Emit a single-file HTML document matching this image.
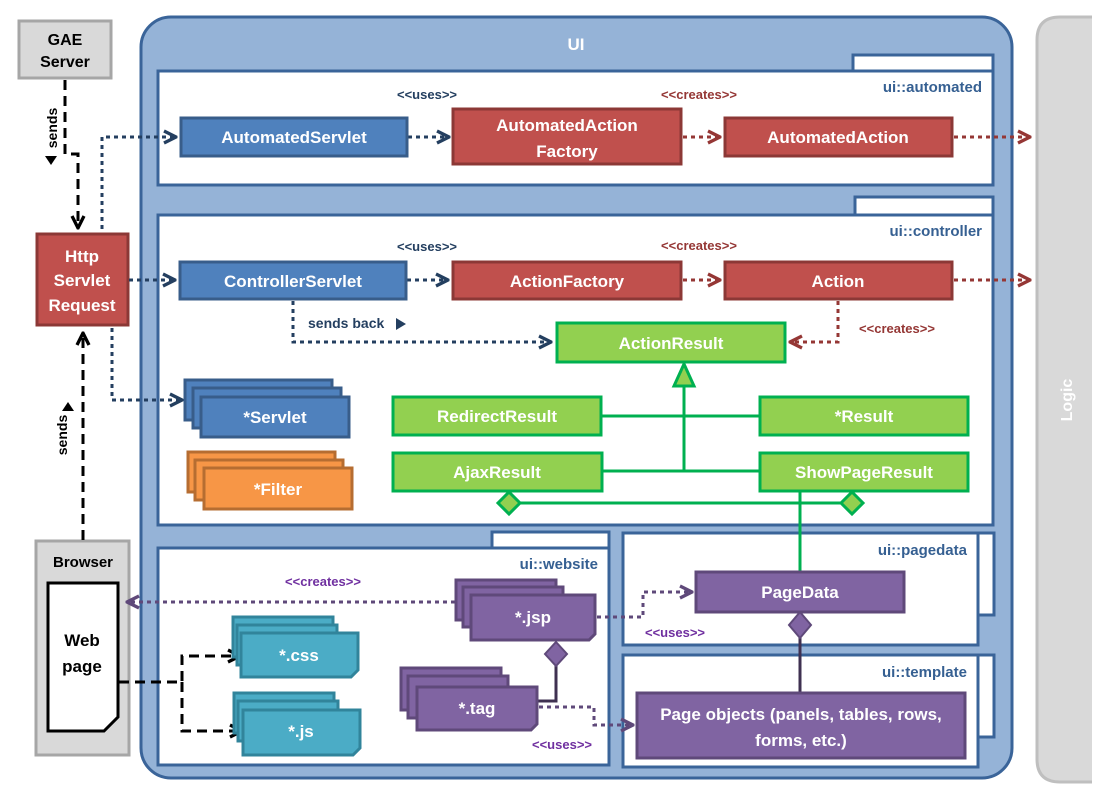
<!DOCTYPE html>
<html><head><meta charset="utf-8"><style>
html,body{margin:0;padding:0;background:#fff}
svg{display:block}
text{font-family:"Liberation Sans",sans-serif;font-weight:bold}
.w{fill:#fff;font-size:17px}
.lab{font-size:14px}
</style></head><body>
<svg width="1096" height="794" viewBox="0 0 1096 794" xmlns="http://www.w3.org/2000/svg">
<defs>
<marker id="ab" viewBox="0 0 10 10" refX="9" refY="5" markerWidth="5" markerHeight="5" orient="auto"><path d="M1,1 L9,5 L1,9" fill="none" stroke="#243F60" stroke-width="2.2"/></marker>
<marker id="ar" viewBox="0 0 10 10" refX="9" refY="5" markerWidth="5" markerHeight="5" orient="auto"><path d="M1,1 L9,5 L1,9" fill="none" stroke="#953735" stroke-width="2.2"/></marker>
<marker id="ap" viewBox="0 0 10 10" refX="9" refY="5" markerWidth="5" markerHeight="5" orient="auto"><path d="M1,1 L9,5 L1,9" fill="none" stroke="#5F497A" stroke-width="2.2"/></marker>
<marker id="ak" viewBox="0 0 10 10" refX="9" refY="5" markerWidth="5" markerHeight="5" orient="auto"><path d="M1,1 L9,5 L1,9" fill="none" stroke="#000" stroke-width="2.2"/></marker>
</defs>
<!-- Logic -->
<path d="M1092,17 L1060,17 Q1037,17 1037,40 L1037,759 Q1037,782 1060,782 L1092,782" fill="#d9d9d9" stroke="#bfbfbf" stroke-width="3"/>
<text x="1072" y="400" transform="rotate(-90 1072 400)" text-anchor="middle" fill="#fff" font-size="16">Logic</text>
<!-- UI -->
<rect x="141" y="17" width="871" height="761" rx="30" fill="#95B3D7" stroke="#3A6499" stroke-width="3"/>
<text x="576" y="50" class="w" text-anchor="middle">UI</text>
<!-- packages -->
<g fill="#fff" stroke="#3A6499" stroke-width="3">
<rect x="853" y="55" width="140" height="20"/>
<rect x="158" y="71" width="835" height="114"/>
<rect x="855" y="197" width="138" height="22"/>
<rect x="158" y="215" width="835" height="310"/>
<rect x="492" y="532" width="117" height="20"/>
<rect x="158" y="548" width="451" height="217"/>
<rect x="960" y="533" width="34" height="82"/>
<rect x="623" y="533" width="355" height="112"/>
<rect x="960" y="655" width="34" height="82"/>
<rect x="623" y="655" width="355" height="112"/>
</g>
<g fill="#366092" font-size="15" text-anchor="end">
<text x="982" y="92">ui::automated</text>
<text x="982" y="236">ui::controller</text>
<text x="598" y="569">ui::website</text>
<text x="967" y="555">ui::pagedata</text>
<text x="967" y="677">ui::template</text>
</g>
<!-- GAE -->
<rect x="19" y="21" width="92" height="57" fill="#d9d9d9" stroke="#a6a6a6" stroke-width="3"/>
<text x="65" y="45" text-anchor="middle" font-size="16">GAE</text>
<text x="65" y="67" text-anchor="middle" font-size="16">Server</text>
<path d="M65,80 L65,154 L78,154 L78,228" fill="none" stroke="#000" stroke-width="3" stroke-dasharray="10,6" marker-end="url(#ak)"/>
<text x="57" y="128" transform="rotate(-90 57 128)" text-anchor="middle" font-size="14">sends</text>
<path d="M45,156 L57,156 L51,165 Z" fill="#000"/>
<!-- Browser -->
<rect x="36" y="541" width="93" height="214" fill="#d9d9d9" stroke="#a6a6a6" stroke-width="3"/>
<text x="83" y="567" text-anchor="middle" font-size="15">Browser</text>
<path d="M48,583 L118,583 L118,717 L104,731 L48,731 Z" fill="#fff" stroke="#000" stroke-width="3"/>
<text x="82" y="646" text-anchor="middle" font-size="17">Web</text>
<text x="82" y="672" text-anchor="middle" font-size="17">page</text>
<path d="M83,540 L83,333" fill="none" stroke="#000" stroke-width="3" stroke-dasharray="10,6" marker-end="url(#ak)"/>
<text x="67" y="435" transform="rotate(-90 67 435)" text-anchor="middle" font-size="14">sends</text>
<path d="M62,411 L74,411 L68,402 Z" fill="#000"/>
<!-- HttpServletRequest -->
<rect x="37" y="234" width="91" height="91" fill="#C0504D" stroke="#8C3836" stroke-width="3"/>
<text x="82" y="262" class="w" text-anchor="middle">Http</text>
<text x="82" y="286" class="w" text-anchor="middle">Servlet</text>
<text x="82" y="311" class="w" text-anchor="middle">Request</text>
<!-- dotted blue connectors -->
<g fill="none" stroke="#243F60" stroke-width="3" stroke-dasharray="4,4" marker-end="url(#ab)">
<path d="M102,229 L102,137 L176,137"/>
<path d="M408,137 L449,137"/>
<path d="M129,280 L175,280"/>
<path d="M407,280 L448,280"/>
<path d="M293,301 L293,342 L551,342"/>
<path d="M112,328 L112,400 L182,400"/>
</g>
<text x="308" y="328" font-size="14" fill="#243F60">sends back</text>
<path d="M396,318 L406,324 L396,330 Z" fill="#243F60"/>
<text x="427" y="99" text-anchor="middle" font-size="13" fill="#243F60">&lt;&lt;uses&gt;&gt;</text>
<text x="427" y="251" text-anchor="middle" font-size="13" fill="#243F60">&lt;&lt;uses&gt;&gt;</text>
<!-- red dotted -->
<g fill="none" stroke="#953735" stroke-width="3" stroke-dasharray="4,4" marker-end="url(#ar)">
<path d="M683,137 L720,137"/>
<path d="M954,137 L1030,137"/>
<path d="M683,280 L720,280"/>
<path d="M954,280 L1030,280"/>
<path d="M838,301 L838,342 L790,342"/>
</g>
<g font-size="13" fill="#953735" text-anchor="middle">
<text x="699" y="99">&lt;&lt;creates&gt;&gt;</text>
<text x="699" y="250">&lt;&lt;creates&gt;&gt;</text>
<text x="897" y="333">&lt;&lt;creates&gt;&gt;</text>
</g>
<!-- blue & red boxes -->
<g stroke-width="3">
<rect x="181" y="118" width="226" height="38" fill="#4F81BD" stroke="#385D8A"/>
<rect x="453" y="109" width="228" height="55" fill="#C0504D" stroke="#8C3836"/>
<rect x="725" y="118" width="227" height="38" fill="#C0504D" stroke="#8C3836"/>
<rect x="180" y="262" width="226" height="37" fill="#4F81BD" stroke="#385D8A"/>
<rect x="453" y="262" width="228" height="37" fill="#C0504D" stroke="#8C3836"/>
<rect x="725" y="262" width="227" height="37" fill="#C0504D" stroke="#8C3836"/>
<rect x="185" y="380" width="147" height="40" fill="#4F81BD" stroke="#385D8A"/>
<rect x="193" y="388" width="148" height="40" fill="#4F81BD" stroke="#385D8A"/>
<rect x="201" y="397" width="148" height="40" fill="#4F81BD" stroke="#385D8A"/>
<rect x="188" y="452" width="147" height="40" fill="#F79646" stroke="#B66D31"/>
<rect x="195" y="460" width="148" height="40" fill="#F79646" stroke="#B66D31"/>
<rect x="204" y="468" width="148" height="41" fill="#F79646" stroke="#B66D31"/>
</g>
<g class="w" text-anchor="middle" fill="#fff" font-size="17">
<text x="294" y="143">AutomatedServlet</text>
<text x="567" y="131">AutomatedAction</text>
<text x="567" y="157">Factory</text>
<text x="838" y="143">AutomatedAction</text>
<text x="293" y="287">ControllerServlet</text>
<text x="567" y="287">ActionFactory</text>
<text x="838" y="287">Action</text>
<text x="275" y="423">*Servlet</text>
<text x="278" y="495">*Filter</text>
</g>
<!-- green -->
<g stroke="#00B050" stroke-width="3" fill="none">
<path d="M684,386 L684,471"/>
<path d="M601,416 L760,416"/>
<path d="M602,471 L760,471"/>
<path d="M520,503 L841,503"/>
<path d="M800,491 L800,572"/>
</g>
<path d="M684,364 L674,386 L694,386 Z" fill="#92D050" stroke="#00B050" stroke-width="3"/>
<path d="M509,492 L520,503 L509,514 L498,503 Z" fill="#92D050" stroke="#00B050" stroke-width="3"/>
<path d="M852,492 L863,503 L852,514 L841,503 Z" fill="#92D050" stroke="#00B050" stroke-width="3"/>
<g fill="#92D050" stroke="#00B050" stroke-width="3">
<rect x="557" y="323" width="228" height="39"/>
<rect x="393" y="397" width="208" height="38"/>
<rect x="760" y="397" width="208" height="38"/>
<rect x="393" y="453" width="209" height="38"/>
<rect x="760" y="453" width="208" height="38"/>
</g>
<g text-anchor="middle" fill="#fff" font-size="17">
<text x="671" y="349">ActionResult</text>
<text x="497" y="422">RedirectResult</text>
<text x="864" y="422">*Result</text>
<text x="497" y="478">AjaxResult</text>
<text x="864" y="478">ShowPageResult</text>
</g>
<!-- purple connectors -->
<path d="M800,625 L800,693" stroke="#3F3151" stroke-width="3"/>
<path d="M800,612 L811,625 L800,638 L789,625 Z" fill="#8064A2" stroke="#5F497A" stroke-width="2"/>
<path d="M537,701 L556,701 L556,666" fill="none" stroke="#3F3151" stroke-width="3"/>
<path d="M556,642 L567,654 L556,666 L545,654 Z" fill="#8064A2" stroke="#5F497A" stroke-width="2"/>
<g fill="none" stroke="#5F497A" stroke-width="3" stroke-dasharray="4,4">
<path d="M455,602 L127,602" marker-end="url(#ap)"/>
<path d="M597,617 L643,617 L643,592 L692,592" marker-end="url(#ap)"/>
<path d="M539,707 L594,707 L594,725 L633,725" marker-end="url(#ap)"/>
</g>
<g font-size="13" fill="#7030A0" text-anchor="middle">
<text x="323" y="586">&lt;&lt;creates&gt;&gt;</text>
<text x="675" y="637">&lt;&lt;uses&gt;&gt;</text>
<text x="562" y="749">&lt;&lt;uses&gt;&gt;</text>
</g>
<!-- black dashed from web page -->
<g fill="none" stroke="#000" stroke-width="3" stroke-dasharray="10,6">
<path d="M119,682 L182,682 L182,656 L240,656" marker-end="url(#ak)"/>
<path d="M182,682 L182,731 L242,731" marker-end="url(#ak)"/>
</g>
<!-- purple boxes -->
<g fill="#8064A2" stroke="#5F497A" stroke-width="3">
<rect x="696" y="572" width="208" height="40"/>
<rect x="637" y="693" width="328" height="65"/>
<rect x="456" y="580" width="100" height="40"/>
<rect x="463" y="587" width="100" height="40"/>
<path d="M471,595 L595,595 L595,634 L589,640 L471,640 Z"/>
<rect x="401" y="668" width="100" height="42"/>
<rect x="408" y="676" width="100" height="42"/>
<path d="M417,687 L537,687 L537,724 L531,730 L417,730 Z"/>
</g>
<g fill="#4BACC6" stroke="#31849B" stroke-width="3">
<rect x="233" y="617" width="100" height="40"/>
<rect x="237" y="625" width="100" height="40"/>
<path d="M241,633 L358,633 L358,670 L351,677 L241,677 Z"/>
<rect x="234" y="693" width="100" height="40"/>
<rect x="238" y="701" width="100" height="40"/>
<path d="M243,710 L360,710 L360,748 L353,755 L243,755 Z"/>
</g>
<g text-anchor="middle" fill="#fff" font-size="17">
<text x="800" y="598">PageData</text>
<text x="801" y="720">Page objects (panels, tables, rows,</text>
<text x="801" y="746">forms, etc.)</text>
<text x="533" y="623">*.jsp</text>
<text x="477" y="714">*.tag</text>
<text x="299" y="661">*.css</text>
<text x="301" y="737">*.js</text>
</g>
</svg>
</body></html>
